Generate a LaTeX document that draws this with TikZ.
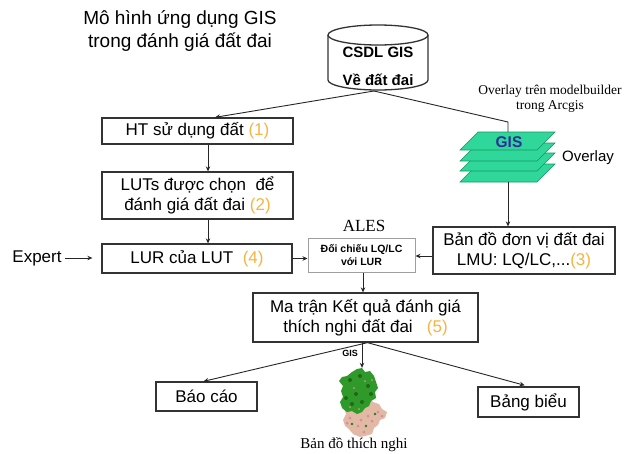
\documentclass[tikz,border=0pt]{standalone}
\usepackage{fontspec}
\setmainfont{Liberation Sans}
\newfontfamily\timesfont{Liberation Serif}
\usetikzlibrary{arrows.meta}
\definecolor{numorange}{HTML}{F6B443}
\definecolor{layergreen}{HTML}{2FD89A}
\definecolor{layeredge}{HTML}{169461}
\definecolor{gisblue}{HTML}{2E2E9A}
\definecolor{boxline}{HTML}{333333}
\definecolor{mapgreen}{HTML}{2F9A2A}
\definecolor{mapdark}{HTML}{1C6A18}
\definecolor{maptan}{HTML}{E2B9A4}
\definecolor{mappink}{HTML}{D98C9A}
\newcommand\nm[1]{\textcolor{numorange}{#1}}
\tikzset{
  box/.style={draw=boxline, line width=1.3pt, fill=white, align=center,
    inner sep=2pt, font=\fontsize{17}{20}\selectfont},
  conn/.style={draw=black!85, line width=0.9pt, -{Stealth[length=5pt,width=4.5pt]}},
  plain/.style={draw=black!85, line width=0.9pt},
  layer/.style={fill=layergreen, draw=layeredge, line width=0.6pt},
}
\begin{document}
\begin{tikzpicture}[x=1pt,y=-1pt]
\useasboundingbox[fill=white] (0,0) rectangle (626,453);

% title
\node[align=center, font=\fontsize{19}{23}\selectfont] (title) at (180,31)
  {Mô hình ứng dụng GIS\\trong đánh giá đất đai};

% database cylinder
\path[draw=boxline, line width=1.3pt, fill=white]
  (328,35) -- (328,80) arc[start angle=180, end angle=0, x radius=50, y radius=10]
  -- (428,35);
\draw[boxline, line width=1.3pt] (378,35) ellipse[x radius=50, y radius=10];
\node[align=center, font=\bfseries\fontsize{15}{28}\selectfont] (db) at (378,66)
  {CSDL GIS\\Về đất đai};
\coordinate (dbout) at (374,91);

% left column
\node[box, minimum width=191pt, minimum height=26pt] (ht) at (197.5,131)
  {HT sử dụng đất \nm{(1)}};
\node[box, minimum width=191pt, minimum height=47pt] (lut) at (197.5,195.5)
  {LUTs được chọn\ \ để\\đánh giá đất đai \nm{(2)}};
\node[box, minimum width=190pt, minimum height=29pt] (lur) at (197,258.5)
  {LUR của LUT\ \ \nm{(4)}};
\node[font=\fontsize{17}{20}\selectfont] (expert) at (37,258) {Expert};

% ALES comparison
\node[font=\timesfont\fontsize{17}{17}\selectfont] (alesl) at (364,226) {ALES};
\node[box, draw=gray!75, line width=1pt, minimum width=107pt, minimum height=34pt,
  font=\bfseries\fontsize{10.5}{12.5}\selectfont] (ales) at (361.5,255)
  {Đối chiếu LQ/LC\\với LUR};

% overlay layers
\node[align=center, font=\timesfont\fontsize{13.5}{14.5}\selectfont] (mb) at (550,99)
  {Overlay trên modelbuilder\\trong Arcgis};
\foreach \b in {182,171,161,150}
  \filldraw[layer] (460,\b) -- (537,\b) -- (555,\b-18) -- (478,\b-18) -- cycle;
\node[minimum width=95pt, minimum height=50pt] (layers) at (508,157) {};
\node[font=\bfseries\fontsize{15.5}{15.5}\selectfont, text=gisblue] (gis) at (509,142) {GIS};
\node[font=\fontsize{15}{15}\selectfont] (ovl) at (588,158) {Overlay};
\coordinate (bend) at (508,122);

\node[box, minimum width=182pt, minimum height=47pt] (lmu) at (524,250.5)
  {Bản đồ đơn vị đất đai\\LMU: LQ/LC,...\nm{(3)}};

% result matrix and outputs
\node[box, minimum width=225pt, minimum height=49pt] (mt) at (365.5,317.5)
  {Ma trận Kết quả đánh giá\\thích nghi đất đai\ \ \ \nm{(5)}};
\node[box, minimum width=101pt, minimum height=29pt] (bc) at (206.5,396.5) {Báo cáo};
\node[box, minimum width=101pt, minimum height=30pt] (bb) at (528.5,402) {Bảng biểu};

% suitability map: province outline, forest in the north, farmland in the south
\fill[maptan] (349,400) -- (356,397) -- (363,399) -- (368,396) -- (373,402)
  -- (379,404) -- (382,409) -- (387,412) -- (385,418) -- (380,420) -- (378,425)
  -- (374,428) -- (372,434) -- (365,436) -- (360,437) -- (353,434) -- (349,429)
  -- (345,426) -- (343,420) -- (346,414) -- (344,408) -- cycle;
\foreach \p in {(350,418),(358,426),(368,416),(378,412),(364,432),(347,423),
                (372,421),(355,410),(382,416),(361,420)}
  \fill[mappink] \p circle[radius=1.5];
\foreach \p in {(352,424),(366,426),(375,414)}
  \fill[mapgreen!80!black] \p circle[radius=1.3];
\fill[mapgreen] (352,372) -- (357,369) -- (362,368) -- (365,372) -- (370,371)
  -- (374,376) -- (376,382) -- (378,388) -- (375,392) -- (376,398) -- (371,401)
  -- (369,406) -- (365,408) -- (362,412) -- (357,414) -- (352,411) -- (347,412)
  -- (342,408) -- (340,402) -- (343,397) -- (341,391) -- (343,386) -- (339,381)
  -- (342,377) -- (347,376) -- cycle;
\foreach \p in {(350,380),(360,376),(368,386),(356,394),(346,398),(362,402),
                (371,394),(352,404)}
  \fill[mapdark] \p circle[radius=2];
\foreach \p in {(354,388),(365,381),(350,407),(359,409),(372,380)}
  \fill[mappink] \p circle[radius=1];
\node[minimum width=50pt, minimum height=68pt] (map) at (362,402) {};
\node[font=\bfseries\fontsize{9}{9}\selectfont] (gislbl) at (350,353) {GIS};
\node[font=\timesfont\fontsize{15}{15}\selectfont] (cap) at (354,445) {Bản đồ thích nghi};

% connectors
\draw[conn] (dbout) -- ([xshift=17.5pt]ht.north);
\draw[plain] (dbout) -- (bend) -- (layers.north);
\draw[conn] ([xshift=10.5pt]ht.south) -- ([xshift=10.5pt]lut.north);
\draw[conn] ([xshift=10.5pt]lut.south) -- ([xshift=11pt]lur.north);
\draw[conn, shorten >=9pt] (expert.east) -- (expert.east -| lur.west);
\draw[conn] (lur.east) -- (lur.east -| ales.west);
\draw[conn] ([yshift=-1pt]ales.east -| lmu.west) -- ([yshift=-1pt]ales.east);
\draw[conn] (layers.south) -- (layers.south |- lmu.north);
\draw[conn] ([xshift=1.5pt]ales.south) -- ([xshift=1.5pt]ales.south |- mt.north);
\draw[conn] ([xshift=2pt]mt.south) -- ([xshift=-3pt]bc.north);
\draw[conn, shorten >=4pt] ([xshift=2pt]mt.south) -- (bb.north);
\draw[conn] (mt.south -| map.north) -- (map.north);
\end{tikzpicture}
\end{document}
